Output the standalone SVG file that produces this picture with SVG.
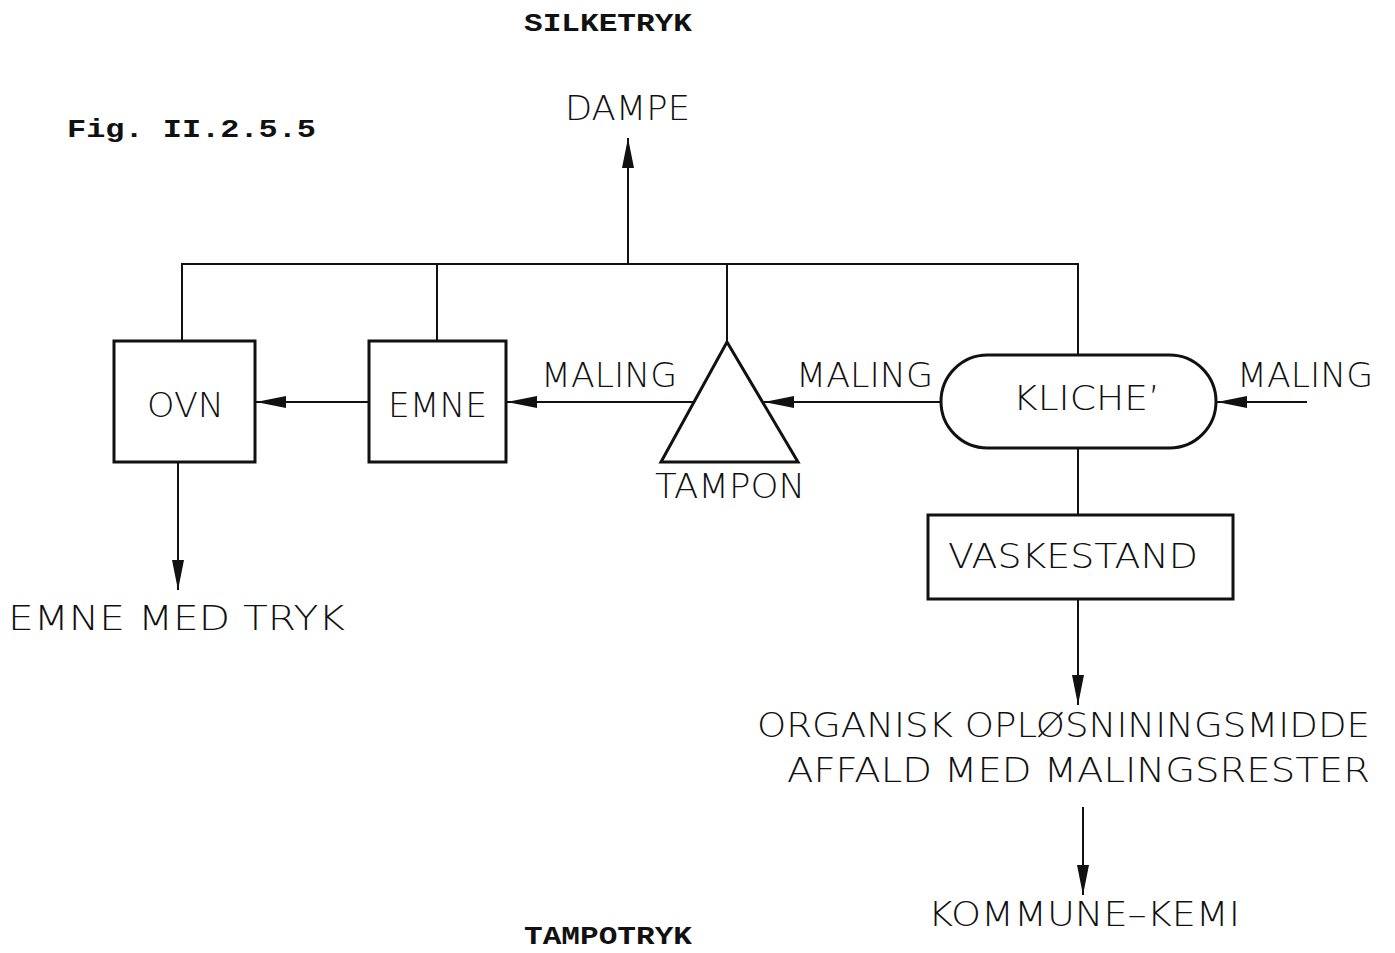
<svg xmlns="http://www.w3.org/2000/svg" width="1395" height="953" viewBox="0 0 1395 953">
<style>
.cad{font-family:"DejaVu Sans","Liberation Sans",sans-serif;font-weight:200;font-size:34px;fill:#111}
.tw{font-family:"Liberation Mono","DejaVu Sans Mono",monospace;font-weight:bold;font-size:26px;fill:#111}
.box{fill:#fff;stroke:#111;stroke-width:3}
.ln{fill:none;stroke:#111;stroke-width:2}
</style>
<defs>
<marker id="ah" markerUnits="userSpaceOnUse" markerWidth="32" markerHeight="14" refX="30" refY="6" orient="auto">
<path d="M0,0 L30,6 L0,12 Z" fill="#111"/>
</marker>
</defs>
<text class="tw" x="524" y="31" textLength="168" lengthAdjust="spacingAndGlyphs">SILKETRYK</text>
<text class="tw" x="67" y="137" textLength="249" lengthAdjust="spacingAndGlyphs">Fig. II.2.5.5</text>
<text class="tw" x="524" y="944" textLength="168" lengthAdjust="spacingAndGlyphs">TAMPOTRYK</text>
<g id="connectors">
<path class="ln" d="M182,340 V264 H1078 V355"/>
<line class="ln" x1="437" y1="264" x2="437" y2="341"/>
<line class="ln" x1="727" y1="264" x2="727" y2="342"/>
<line class="ln" x1="628" y1="264" x2="628" y2="138" marker-end="url(#ah)"/>
<line class="ln" x1="369" y1="402" x2="256" y2="402" marker-end="url(#ah)"/>
<line class="ln" x1="693" y1="402" x2="507" y2="402" marker-end="url(#ah)"/>
<line class="ln" x1="941" y1="402" x2="764" y2="402" marker-end="url(#ah)"/>
<line class="ln" x1="1307" y1="402" x2="1217" y2="402" marker-end="url(#ah)"/>
<line class="ln" x1="178" y1="462" x2="178" y2="590" marker-end="url(#ah)"/>
<line class="ln" x1="1078" y1="448" x2="1078" y2="515"/>
<line class="ln" x1="1078" y1="599" x2="1078" y2="705" marker-end="url(#ah)"/>
<line class="ln" x1="1083" y1="807" x2="1083" y2="895" marker-end="url(#ah)"/>
</g>
<g id="dampe"><text class="cad" x="565" y="120" textLength="125" lengthAdjust="spacingAndGlyphs">DAMPE</text></g>
<g id="ovn">
<rect class="box" x="114" y="341" width="141" height="121"/>
<text class="cad" x="147" y="417" textLength="77" lengthAdjust="spacingAndGlyphs">OVN</text>
</g>
<g id="emne">
<rect class="box" x="369" y="341" width="137" height="121"/>
<text class="cad" x="388" y="417" textLength="99" lengthAdjust="spacingAndGlyphs">EMNE</text>
</g>
<g id="tampon">
<polygon class="box" points="727,342 798,462 661,462"/>
<text class="cad" x="655" y="498" textLength="150" lengthAdjust="spacingAndGlyphs">TAMPON</text>
</g>
<g id="kliche">
<rect class="box" x="941" y="355" width="275" height="93" rx="46.5" ry="46.5"/>
<text class="cad" x="1013" y="410" textLength="147" lengthAdjust="spacingAndGlyphs">KLICHE’</text>
</g>
<g id="vaskestand">
<rect class="box" x="928" y="515" width="305" height="84"/>
<text class="cad" x="948" y="568" textLength="250" lengthAdjust="spacingAndGlyphs">VASKESTAND</text>
</g>
<g id="labels">
<text class="cad" x="541" y="387" textLength="136" lengthAdjust="spacingAndGlyphs">MALING</text>
<text class="cad" x="796" y="387" textLength="137" lengthAdjust="spacingAndGlyphs">MALING</text>
<text class="cad" x="1237" y="387" textLength="136" lengthAdjust="spacingAndGlyphs">MALING</text>
<text class="cad" x="8" y="630" textLength="337" lengthAdjust="spacingAndGlyphs">EMNE MED TRYK</text>
<text class="cad" x="757" y="737" textLength="613" lengthAdjust="spacingAndGlyphs">ORGANISK OPLØSNININGSMIDDE</text>
<text class="cad" x="787" y="782" textLength="583" lengthAdjust="spacingAndGlyphs">AFFALD MED MALINGSRESTER</text>
<text class="cad" x="928" y="926" textLength="312" lengthAdjust="spacingAndGlyphs">KOMMUNE–KEMI</text>
</g>
</svg>
